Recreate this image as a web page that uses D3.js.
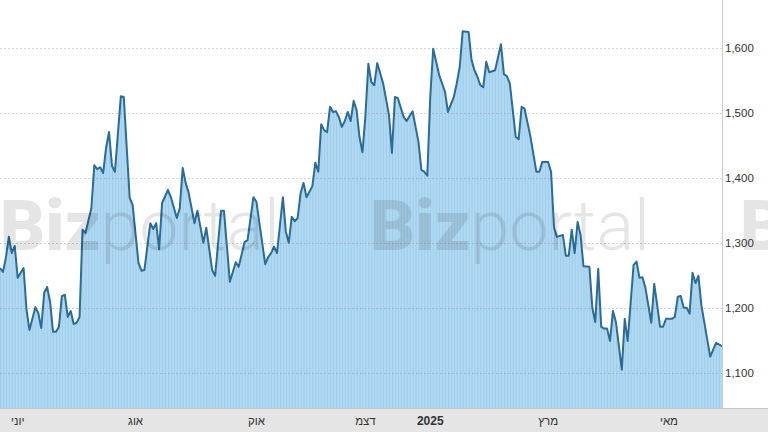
<!DOCTYPE html>
<html>
<head>
<meta charset="utf-8">
<script src="https://cdn.jsdelivr.net/npm/d3@7"></script>
<style>
  html, body { margin: 0; padding: 0; background: #fff; }
  svg { display: block; }
</style>
</head>
<body>
<svg id="chart" width="768" height="432"></svg>
<script>
// trading-day index since start of the period
const days = [0,1,2,3,4,5,6,8,9,10,12,13,14,15,16,17,18,19,20,21,22,23,24,25,26,27,28,29,31,32,33,34,35,36,37,38,39,41,42,44,45,47,48,49,51,52,53,54,55,57,58,60,61,62,63,64,66,67,69,70,72,73,75,76,78,80,81,83,84,86,87,90,91,92,93,94,96,97,98,99,100,101,102,103,104,106,107,108,109,110,111,112,113,114,115,116,117,118,119,120,121,122,123,124,125,126,127,128,130,132,133,134,135,137,138,140,142,143,144,145,146,147,149,151,152,154,155,156,157,159,160,161,162,163,164,165,166,168,170,171,172,173,175,176,177,178,180,182,183,184,186,187,188,189,191,192,193,194,195,196,197,198,200,201,202,203,204,205,206,207,208,209,211,212,213,215,216,217,218,219,221,222,224,225,226,228,229,230,231,232,233,234,235,236,237,238,240,241,243,245];
const prices = [1261,1255,1277,1309,1284,1295,1246,1261,1197,1166,1201,1192,1169,1223,1232,1209,1163,1163,1171,1218,1220,1186,1195,1175,1177,1186,1320,1315,1353,1419,1413,1416,1407,1446,1470,1418,1409,1525,1524,1369,1358,1269,1257,1258,1330,1321,1330,1290,1361,1381,1370,1338,1353,1415,1392,1377,1330,1349,1300,1323,1258,1249,1349,1349,1240,1270,1263,1301,1304,1370,1363,1267,1278,1284,1294,1284,1370,1317,1300,1340,1333,1338,1376,1392,1370,1387,1423,1409,1482,1473,1470,1509,1501,1502,1493,1478,1487,1501,1487,1518,1504,1462,1439,1495,1575,1547,1542,1576,1545,1496,1438,1524,1522,1493,1487,1502,1455,1412,1409,1403,1524,1598,1558,1532,1501,1524,1545,1570,1625,1624,1581,1565,1555,1542,1539,1578,1562,1565,1605,1559,1556,1545,1463,1459,1509,1506,1463,1409,1409,1424,1424,1409,1323,1309,1312,1280,1280,1320,1284,1332,1312,1264,1263,1200,1178,1260,1171,1168,1168,1149,1195,1178,1105,1183,1149,1266,1271,1246,1247,1231,1177,1237,1171,1171,1183,1183,1186,1217,1218,1200,1200,1191,1254,1238,1249,1204,1151,1125,1146,1141];

const yTicks = [1100, 1200, 1300, 1400, 1500, 1600];
const monthLabels = ["יוני", "אוג", "אוק", "דצמ", "2025", "מרץ", "מאי"];
const monthDays = [6, 46, 87, 124, 146, 186, 227];
const yearLabel = "2025";
const dayDomain = [0, 245];
const priceDomain = [1046, 1673];

const W = 768, H = 432;
const plotRight = 722, plotBottom = 408;

const svg = d3.select("#chart");
const x = d3.scaleLinear().domain(dayDomain).range([0, plotRight]);
const y = d3.scaleLinear().domain(priceDomain).range([plotBottom, 0]);

const data = days.map((d, i) => ({ d, v: prices[i] }));

// stripe pattern for area fill
const step = x(1) - x(0);
const defs = svg.append("defs");
const pat = defs.append("pattern")
  .attr("id", "stripes")
  .attr("patternUnits", "userSpaceOnUse")
  .attr("width", step).attr("height", 10);
pat.append("rect").attr("width", step).attr("height", 10).attr("fill", "#b2d9f2");
pat.append("rect").attr("x", 0).attr("width", 0.8).attr("height", 10).attr("fill", "#98c9ea");

defs.append("clipPath").attr("id", "plotclip")
  .append("rect").attr("x", 0).attr("y", 0).attr("width", plotRight).attr("height", plotBottom);

// area
svg.append("path")
  .datum(data)
  .attr("fill", "url(#stripes)")
  .attr("d", d3.area().x(p => x(p.d)).y0(plotBottom).y1(p => y(p.v)));

// gridlines
svg.append("g").selectAll("line").data(yTicks).join("line")
  .attr("x1", 0).attr("x2", plotRight)
  .attr("y1", t => Math.round(y(t)) + 0.5).attr("y2", t => Math.round(y(t)) + 0.5)
  .attr("stroke", "#888").attr("stroke-opacity", 0.35)
  .attr("stroke-dasharray", "2,2");

// line
svg.append("path")
  .datum(data)
  .attr("fill", "none")
  .attr("stroke", "#2b6c97")
  .attr("stroke-width", 2)
  .attr("stroke-linejoin", "round")
  .attr("d", d3.line().x(p => x(p.d)).y(p => y(p.v)));

// watermark
const wm = svg.append("g").attr("fill", "#000").attr("fill-opacity", 0.1);
[0, 370, 740].forEach(ox => {
  const t = wm.append("text")
    .attr("x", ox).attr("y", 250)
    .attr("font-family", "Roboto, 'Liberation Sans', sans-serif")
    .attr("font-size", 70);
  t.append("tspan").attr("font-weight", 900).text("Biz");
  t.append("tspan").attr("font-weight", 300).text("portal");
});

// right axis line
svg.append("line")
  .attr("x1", plotRight + 0.5).attr("x2", plotRight + 0.5)
  .attr("y1", 0).attr("y2", plotBottom)
  .attr("stroke", "#cccccc");

// y labels
svg.append("g").selectAll("text").data(yTicks).join("text")
  .attr("x", plotRight + 3)
  .attr("y", t => y(t))
  .attr("dy", "0.35em")
  .attr("font-family", "'Liberation Sans', Arial, sans-serif")
  .attr("font-size", 11.5)
  .attr("fill", "#333")
  .text(t => d3.format(",")(t));

// bottom band
svg.append("rect")
  .attr("x", 0).attr("y", plotBottom).attr("width", W).attr("height", H - plotBottom)
  .attr("fill", "#e5e5e5");
svg.append("line")
  .attr("x1", 0).attr("x2", W).attr("y1", plotBottom + 0.5).attr("y2", plotBottom + 0.5)
  .attr("stroke", "#c8c8c8");

// month labels
svg.append("g").selectAll("text").data(monthLabels).join("text")
  .attr("x", (m, i) => x(monthDays[i]))
  .attr("y", 425)
  .attr("text-anchor", "middle")
  .attr("font-family", "'Liberation Sans', Arial, sans-serif")
  .attr("font-size", m => m === yearLabel ? 12 : 11.5)
  .attr("font-weight", m => m === yearLabel ? "bold" : "normal")
  .attr("fill", "#333")
  .text(m => m);
</script>
</body>
</html>
